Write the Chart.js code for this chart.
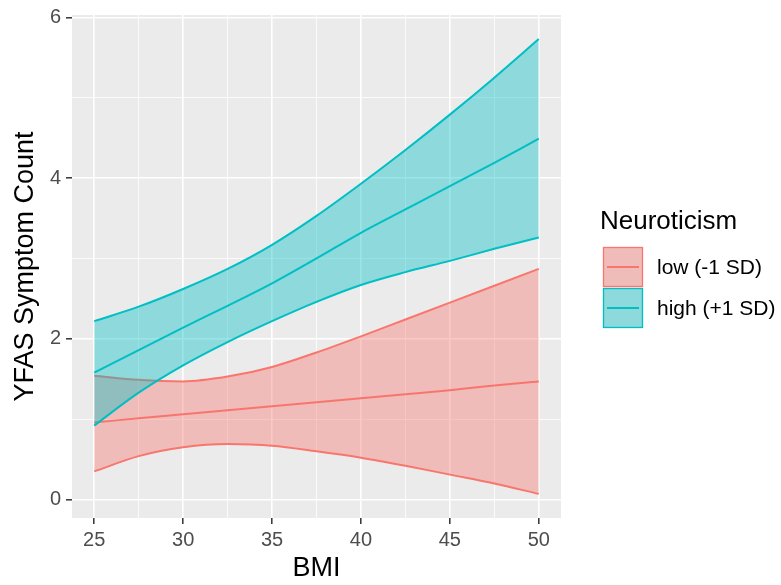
<!DOCTYPE html>
<html>
<head>
<meta charset="utf-8">
<script src="https://cdn.jsdelivr.net/npm/chart.js@4/dist/chart.umd.min.js"></script>
<style>
  html, body { margin: 0; padding: 0; background: #fff; }
  #wrap { width: 781px; height: 585px; }
</style>
</head>
<body>
<div id="wrap"><canvas id="chart"></canvas></div>
<script>
/* Datos: BMI vs conteo de síntomas YFAS */
const bmi = [25, 27.5, 30, 32.5, 35, 37.5, 40, 42.5, 45, 47.5, 50];

const lowMean  = [0.96, 1.01, 1.06, 1.11, 1.16, 1.21, 1.26, 1.31, 1.36, 1.42, 1.47];
const lowUpper = [1.54, 1.49, 1.47, 1.53, 1.65, 1.83, 2.03, 2.24, 2.45, 2.66, 2.87];
const lowLower = [0.35, 0.54, 0.65, 0.69, 0.67, 0.60, 0.52, 0.42, 0.31, 0.20, 0.07];

const highMean  = [1.58, 1.86, 2.14, 2.41, 2.69, 3.00, 3.32, 3.61, 3.90, 4.19, 4.49];
const highUpper = [2.22, 2.40, 2.62, 2.87, 3.17, 3.53, 3.93, 4.35, 4.79, 5.25, 5.73];
const highLower = [0.92, 1.33, 1.67, 1.96, 2.22, 2.46, 2.67, 2.83, 2.97, 3.12, 3.26];

const seriesNames = ['low (-1 SD)', 'high (+1 SD)'];
const legendTitle = 'Neuroticism';

const xTicks = [25, 27.5, 30, 32.5, 35, 37.5, 40, 42.5, 45, 47.5, 50];
const yTicks = [0, 1, 2, 3, 4, 5, 6];

const RED = '#F8766D';
const RED_FILL = 'rgba(248,118,109,0.4)';
const BLUE = '#00BFC4';
const BLUE_FILL = 'rgba(0,191,196,0.4)';
const FONT = '"Liberation Sans", Arial, Helvetica, sans-serif';

const pts = arr => arr.map((v, i) => ({ x: bmi[i], y: v }));

function lineDs(label, data, color, order, fill, bg) {
  return {
    label: label,
    data: pts(data),
    borderColor: color,
    borderWidth: 2,
    backgroundColor: bg || 'transparent',
    fill: fill || false,
    pointRadius: 0,
    cubicInterpolationMode: 'monotone',
    order: order
  };
}

// Fondo gris del panel (estilo ggplot)
const panelBg = {
  id: 'panelBg',
  beforeDraw(chart) {
    const { ctx, chartArea: a } = chart;
    ctx.save();
    ctx.fillStyle = '#fff';
    ctx.fillRect(0, 0, chart.width, chart.height);
    ctx.fillStyle = '#EBEBEB';
    ctx.fillRect(a.left, a.top, a.right - a.left, a.bottom - a.top);
    ctx.restore();
  }
};

// Leyenda a la derecha, dibujada a mano
const sideLegend = {
  id: 'sideLegend',
  afterDraw(chart) {
    const { ctx, chartArea: a } = chart;
    const x0 = a.right + 42;
    ctx.save();
    ctx.fillStyle = '#000';
    ctx.font = '26px ' + FONT;
    ctx.textBaseline = 'middle';
    ctx.fillText(legendTitle, x0 - 3, 222);

    const keys = [
      { name: seriesNames[0], line: RED, fill: RED_FILL },
      { name: seriesNames[1], line: BLUE, fill: BLUE_FILL }
    ];
    keys.forEach((k, i) => {
      const y0 = 247 + i * 41;
      ctx.fillStyle = '#EBEBEB';
      ctx.fillRect(x0, y0, 40, 40);
      ctx.fillStyle = k.fill;
      ctx.fillRect(x0, y0, 40, 40);
      ctx.strokeStyle = k.line;
      ctx.lineWidth = 1.3;
      ctx.strokeRect(x0 + 0.5, y0 + 0.5, 39, 39);
      ctx.lineWidth = 2;
      ctx.beginPath();
      ctx.moveTo(x0 + 4, y0 + 20);
      ctx.lineTo(x0 + 36, y0 + 20);
      ctx.stroke();
      ctx.fillStyle = '#000';
      ctx.font = '21px ' + FONT;
      ctx.fillText(k.name, x0 + 54, y0 + 21);
    });
    ctx.restore();
  }
};

const isMajorX = v => v % 5 === 0;
const isMajorY = v => v % 2 === 0;

new Chart(document.getElementById('chart'), {
  type: 'line',
  data: {
    datasets: [
      lineDs(seriesNames[0] + ' lower', lowLower, RED, 2),
      lineDs(seriesNames[0] + ' upper', lowUpper, RED, 2, '-1', RED_FILL),
      lineDs(seriesNames[0], lowMean, RED, 2),
      lineDs(seriesNames[1] + ' lower', highLower, BLUE, 1),
      lineDs(seriesNames[1] + ' upper', highUpper, BLUE, 1, '-1', BLUE_FILL),
      lineDs(seriesNames[1], highMean, BLUE, 1)
    ]
  },
  options: {
    responsive: true,
    maintainAspectRatio: false,
    animation: false,
    layout: { padding: { top: 15, right: 220, left: 0, bottom: 0 } },
    plugins: {
      legend: { display: false },
      tooltip: { enabled: false },
      filler: { drawTime: 'beforeDatasetDraw' }
    },
    scales: {
      x: {
        type: 'linear',
        min: 23.75,
        max: 51.25,
        afterBuildTicks: s => { s.ticks = xTicks.map(v => ({ value: v })); },
        afterFit: s => { s.height = 67; s.paddingLeft = 0; s.paddingRight = 0; },
        border: { display: false },
        grid: {
          color: '#fff',
          lineWidth: c => isMajorX(c.tick.value) ? 1.6 : 0.8,
          tickColor: c => isMajorX(c.tick.value) ? '#333' : 'rgba(0,0,0,0)',
          tickLength: 6,
          tickWidth: 1.5
        },
        ticks: {
          autoSkip: false,
          maxRotation: 0,
          padding: 4,
          color: '#4D4D4D',
          font: { family: FONT, size: 20 },
          callback: v => isMajorX(v) ? String(v) : ''
        },
        title: {
          display: true,
          text: 'BMI',
          color: '#000',
          font: { family: FONT, size: 27 },
          padding: { top: 0, bottom: 0 }
        }
      },
      y: {
        type: 'linear',
        min: -0.23,
        max: 6.03,
        afterBuildTicks: s => { s.ticks = yTicks.map(v => ({ value: v })); },
        afterFit: s => { s.width = 72; s.paddingTop = 0; s.paddingBottom = 0; },
        border: { display: false },
        grid: {
          color: '#fff',
          lineWidth: c => isMajorY(c.tick.value) ? 1.6 : 0.8,
          tickColor: c => isMajorY(c.tick.value) ? '#333' : 'rgba(0,0,0,0)',
          tickLength: 6,
          tickWidth: 1.5
        },
        ticks: {
          autoSkip: false,
          padding: 5,
          color: '#4D4D4D',
          font: { family: FONT, size: 20 },
          callback: v => isMajorY(v) ? String(v) : ''
        },
        title: {
          display: true,
          text: 'YFAS Symptom Count',
          color: '#000',
          font: { family: FONT, size: 27 },
          padding: { top: 9, bottom: 0 }
        }
      }
    }
  },
  plugins: [panelBg, sideLegend]
});
</script>
</body>
</html>
